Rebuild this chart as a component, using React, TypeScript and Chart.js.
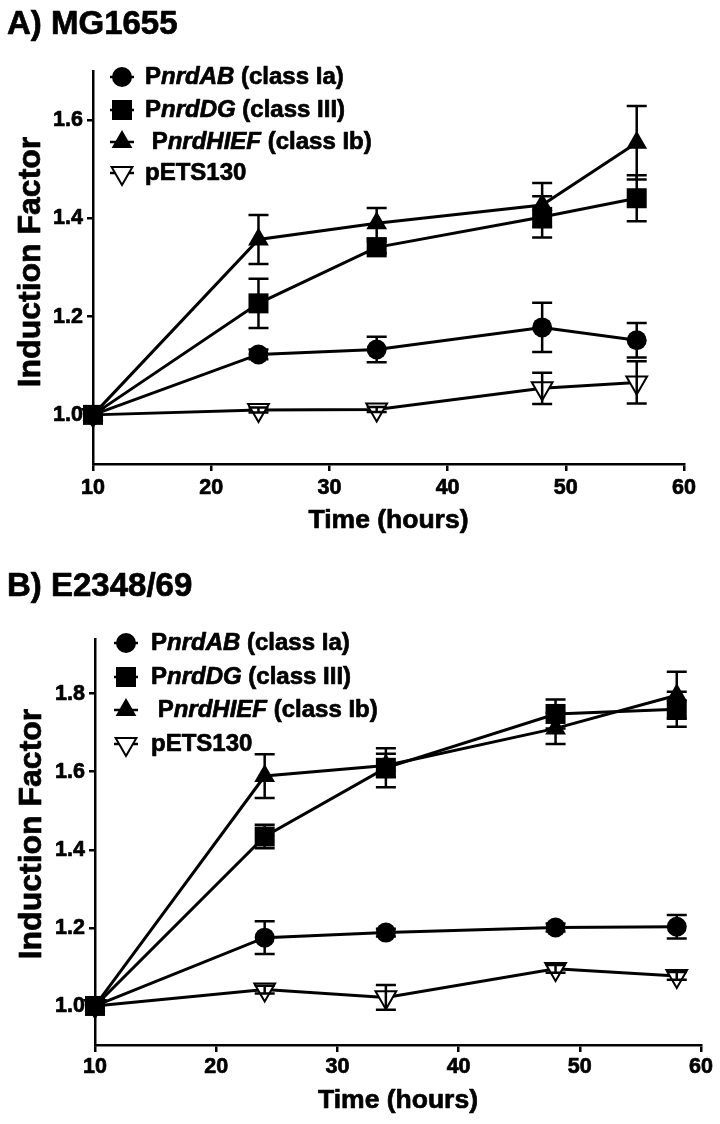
import React, { useEffect, useRef } from 'react';
import { Chart, registerables } from 'chart.js';

Chart.register(...registerables);

// ---------- data ----------
const X_TICKS = [10, 20, 30, 40, 50, 60];

// Panel A: MG1655
const TIME_A = [10, 24, 34, 48, 56];
const AB_A = [1.0, 1.123, 1.133, 1.178, 1.152];
const AB_A_ERR = [0, 0.01, 0.026, 0.05, 0.035];
const DG_A = [1.0, 1.227, 1.341, 1.403, 1.441];
const DG_A_ERR = [0, 0.05, 0.012, 0.042, 0.047];
const HIEF_A = [1.0, 1.357, 1.39, 1.427, 1.554];
const HIEF_A_ERR = [0, 0.05, 0.031, 0.045, 0.075];
const PETS_A = [1.0, 1.01, 1.011, 1.054, 1.066];
const PETS_A_ERR = [0, 0.005, 0.005, 0.032, 0.043];
const Y_TICKS_A = [1.0, 1.2, 1.4, 1.6];

// Panel B: E2348/69
const TIME_B = [10, 24, 34, 48, 58];
const AB_B = [1.0, 1.175, 1.188, 1.201, 1.203];
const AB_B_ERR = [0, 0.042, 0.01, 0.01, 0.03];
const DG_B = [1.0, 1.434, 1.61, 1.748, 1.76];
const DG_B_ERR = [0, 0.03, 0.05, 0.037, 0.045];
const HIEF_B = [1.0, 1.589, 1.616, 1.711, 1.796];
const HIEF_B_ERR = [0, 0.056, 0.03, 0.04, 0.06];
const PETS_B = [1.0, 1.042, 1.022, 1.095, 1.077];
const PETS_B_ERR = [0, 0.01, 0.032, 0.01, 0.01];
const Y_TICKS_B = [1.0, 1.2, 1.4, 1.6, 1.8];

// legend labels: [text, italic]
const LABEL_AB: [string, boolean][] = [['P', false], ['nrdAB', true], [' (class Ia)', false]];
const LABEL_DG: [string, boolean][] = [['P', false], ['nrdDG', true], [' (class III)', false]];
const LABEL_HIEF: [string, boolean][] = [[' P', false], ['nrdHIEF', true], [' (class Ib)', false]];
const LABEL_PETS: [string, boolean][] = [['pETS130', false]];

const X_TITLE = 'Time (hours)';
const Y_TITLE = 'Induction Factor';

// ---------- styling ----------
const SX = 1.0; // horizontal text stretch
const TEXT_STROKE = 0.7; // slight emboldening
const FAMILY = '"Liberation Sans", Arial, Helvetica, sans-serif';
const font = (size: number, italic = false) => `${italic ? 'italic ' : ''}bold ${size}px ${FAMILY}`;

type Kind = 'circle' | 'rect' | 'triangle' | 'down';

const KINDS: Kind[] = ['circle', 'rect', 'triangle', 'down'];
const LABELS = [LABEL_AB, LABEL_DG, LABEL_HIEF, LABEL_PETS];

const R_CIRCLE = 10;
const SIDE_RECT = 20;
const R_TRI = 12;

function pointProps(kind: Kind) {
  switch (kind) {
    case 'circle':
      return { pointStyle: 'circle', pointRadius: R_CIRCLE, pointBackgroundColor: '#000', pointBorderWidth: 0, pointRotation: 0 };
    case 'rect':
      return { pointStyle: 'rect', pointRadius: SIDE_RECT / Math.SQRT2, pointBackgroundColor: '#000', pointBorderWidth: 0, pointRotation: 0 };
    case 'triangle':
      return { pointStyle: 'triangle', pointRadius: R_TRI, pointBackgroundColor: '#000', pointBorderWidth: 0, pointRotation: 0 };
    default:
      return { pointStyle: 'triangle', pointRadius: R_TRI, pointBackgroundColor: '#fff', pointBorderWidth: 2, pointRotation: 180 };
  }
}

function fillStroke(ctx: CanvasRenderingContext2D, text: string, x: number, y: number) {
  ctx.fillText(text, x, y);
  ctx.lineWidth = TEXT_STROKE;
  ctx.strokeStyle = '#000';
  ctx.lineJoin = 'round';
  ctx.strokeText(text, x, y);
}

function drawText(ctx: CanvasRenderingContext2D, text: string, x: number, y: number, f: string, align: 'left' | 'center' | 'right') {
  ctx.save();
  ctx.font = f;
  ctx.textAlign = 'left';
  const w = ctx.measureText(text).width * SX;
  let x0 = x;
  if (align === 'center') x0 = x - w / 2;
  if (align === 'right') x0 = x - w;
  ctx.translate(x0, y);
  ctx.scale(SX, 1);
  fillStroke(ctx, text, 0, 0);
  ctx.restore();
  return w;
}

function drawMarker(ctx: CanvasRenderingContext2D, kind: Kind, x: number, y: number) {
  ctx.save();
  ctx.beginPath();
  const r = R_TRI;
  if (kind === 'circle') ctx.arc(x, y, R_CIRCLE, 0, Math.PI * 2);
  else if (kind === 'rect') ctx.rect(x - SIDE_RECT / 2, y - SIDE_RECT / 2, SIDE_RECT, SIDE_RECT);
  else if (kind === 'triangle') {
    ctx.moveTo(x, y - r);
    ctx.lineTo(x + r * 0.866, y + r * 0.5);
    ctx.lineTo(x - r * 0.866, y + r * 0.5);
    ctx.closePath();
  } else {
    ctx.moveTo(x, y + r);
    ctx.lineTo(x + r * 0.866, y - r * 0.5);
    ctx.lineTo(x - r * 0.866, y - r * 0.5);
    ctx.closePath();
  }
  if (kind === 'down') {
    ctx.fillStyle = '#fff';
    ctx.fill();
    ctx.lineWidth = 2;
    ctx.strokeStyle = '#000';
    ctx.stroke();
  } else {
    ctx.fillStyle = '#000';
    ctx.fill();
  }
  ctx.restore();
}

type PanelCfg = {
  title: string;
  height: number;
  area: { left: number; right: number; top: number; bottom: number };
  yMin: number;
  yMax: number;
  yTicks: number[];
  time: number[];
  values: number[][];
  errors: number[][];
  titleY: number;
  legendX: number;
  legendRows: number[];
  legendTextX: number;
  xLabelY: number;
  xTitleY: number;
  yTitleX: number;
  yTitleY: number;
  yLabelRight: number;
};

const PANEL_A: PanelCfg = {
  title: 'A) MG1655',
  height: 560,
  area: { left: 93, right: 684, top: 71, bottom: 464 },
  yMin: 0.9,
  yMax: 1.7,
  yTicks: Y_TICKS_A,
  time: TIME_A,
  values: [AB_A, DG_A, HIEF_A, PETS_A],
  errors: [AB_A_ERR, DG_A_ERR, HIEF_A_ERR, PETS_A_ERR],
  titleY: 34,
  legendX: 122,
  legendRows: [77, 110, 142, 173],
  legendTextX: 145,
  xLabelY: 488,
  xTitleY: 521,
  yTitleX: 31,
  yTitleY: 262,
  yLabelRight: 83,
};

const PANEL_B: PanelCfg = {
  title: 'B) E2348/69',
  height: 564,
  area: { left: 95, right: 701, top: 79, bottom: 485 },
  yMin: 0.9,
  yMax: 1.94,
  yTicks: Y_TICKS_B,
  time: TIME_B,
  values: [AB_B, DG_B, HIEF_B, PETS_B],
  errors: [AB_B_ERR, DG_B_ERR, HIEF_B_ERR, PETS_B_ERR],
  titleY: 36,
  legendX: 126,
  legendRows: [83, 117, 150, 184],
  legendTextX: 151,
  xLabelY: 507,
  xTitleY: 541,
  yTitleX: 32,
  yTitleY: 274,
  yLabelRight: 85,
};

function Panel({ cfg }: { cfg: PanelCfg }) {
  const ref = useRef<HTMLCanvasElement | null>(null);

  useEffect(() => {
    const canvas = ref.current;
    if (!canvas) return;

    const datasets = cfg.values.map((vals, i) => ({
      label: LABELS[i].map((p) => p[0]).join(''),
      data: cfg.time.map((t, j) => ({ x: t, y: vals[j] })),
      errorBars: cfg.errors[i],
      borderColor: '#000',
      borderWidth: 3,
      pointBorderColor: '#000',
      tension: 0,
      fill: false,
      clip: false,
      ...pointProps(KINDS[i]),
    }));

    const textPlugin = {
      id: 'panelText',
      beforeDatasetsDraw(chart: any) {
        const ctx: CanvasRenderingContext2D = chart.ctx;
        const xs = chart.scales.x;
        const ys = chart.scales.y;
        ctx.save();
        ctx.fillStyle = '#000';
        ctx.textBaseline = 'middle';
        X_TICKS.forEach((v) => drawText(ctx, String(v), xs.getPixelForValue(v), cfg.xLabelY, font(21.5), 'center'));
        cfg.yTicks.forEach((v) => drawText(ctx, v.toFixed(1), cfg.yLabelRight, ys.getPixelForValue(v), font(21.5), 'right'));
        drawText(ctx, X_TITLE, (xs.left + xs.right) / 2, cfg.xTitleY, font(26.5), 'center');
        // y title (rotated)
        ctx.save();
        ctx.translate(cfg.yTitleX, cfg.yTitleY);
        ctx.scale(SX, 1);
        ctx.rotate(-Math.PI / 2);
        ctx.font = font(32);
        ctx.textAlign = 'center';
        fillStroke(ctx, Y_TITLE, 0, 0);
        ctx.restore();
        // panel title
        ctx.textBaseline = 'alphabetic';
        drawText(ctx, cfg.title, 7, cfg.titleY, font(33), 'left');
        // legend
        ctx.textBaseline = 'middle';
        LABELS.forEach((parts, i) => {
          const y = cfg.legendRows[i];
          ctx.save();
          ctx.strokeStyle = '#000';
          ctx.lineWidth = 2.5;
          ctx.beginPath();
          ctx.moveTo(cfg.legendX - 12, y);
          ctx.lineTo(cfg.legendX + 12, y);
          ctx.stroke();
          ctx.restore();
          drawMarker(ctx, KINDS[i], cfg.legendX, y);
          let x = cfg.legendTextX;
          parts.forEach(([t, it]) => {
            x += drawText(ctx, t, x, y, font(24, it), 'left');
          });
        });
        ctx.restore();
      },
    };

    const errPlugin = {
      id: 'errorBars',
      afterDatasetsDraw(chart: any) {
        const ctx: CanvasRenderingContext2D = chart.ctx;
        const ys = chart.scales.y;
        ctx.save();
        ctx.strokeStyle = '#000';
        ctx.lineWidth = 2.5;
        chart.data.datasets.forEach((ds: any, i: number) => {
          const meta = chart.getDatasetMeta(i);
          ds.data.forEach((p: any, j: number) => {
            const e = ds.errorBars[j];
            if (!e) return;
            const x = meta.data[j].x;
            const yTop = ys.getPixelForValue(p.y + e);
            const yBot = ys.getPixelForValue(p.y - e);
            ctx.beginPath();
            ctx.moveTo(x, yTop);
            ctx.lineTo(x, yBot);
            ctx.moveTo(x - 10, yTop);
            ctx.lineTo(x + 10, yTop);
            ctx.moveTo(x - 10, yBot);
            ctx.lineTo(x + 10, yBot);
            ctx.stroke();
          });
        });
        ctx.restore();
      },
    };

    const chart = new Chart(canvas, {
      type: 'line',
      data: { datasets: datasets as any },
      options: {
        responsive: false,
        animation: false,
        devicePixelRatio: 1,
        events: [],
        layout: { padding: { top: cfg.area.top, right: 720 - cfg.area.right, left: 0, bottom: 0 } },
        plugins: {
          legend: { display: false },
          tooltip: { enabled: false },
          title: { display: false },
        },
        scales: {
          x: {
            type: 'linear',
            min: 10,
            max: 60,
            afterBuildTicks: (s: any) => {
              s.ticks = X_TICKS.map((v) => ({ value: v }));
            },
            afterFit: (s: any) => {
              s.height = cfg.height - cfg.area.bottom;
            },
            ticks: { display: false },
            grid: {
              display: true,
              drawOnChartArea: false,
              drawTicks: true,
              tickLength: 7,
              tickWidth: 2.5,
              tickColor: '#000',
              color: '#000',
              lineWidth: 2.5,
            },
            border: { display: true, color: '#000', width: 2.5 },
          },
          y: {
            type: 'linear',
            min: cfg.yMin,
            max: cfg.yMax,
            afterBuildTicks: (s: any) => {
              s.ticks = cfg.yTicks.map((v) => ({ value: v }));
            },
            afterFit: (s: any) => {
              s.width = cfg.area.left;
            },
            ticks: { display: false },
            grid: {
              display: true,
              drawOnChartArea: false,
              drawTicks: true,
              tickLength: 6,
              tickWidth: 2.5,
              tickColor: '#000',
              color: '#000',
              lineWidth: 2.5,
            },
            border: { display: true, color: '#000', width: 2.5 },
          },
        },
      } as any,
      plugins: [textPlugin, errPlugin],
    });

    return () => chart.destroy();
  }, [cfg]);

  return (
    <canvas
      ref={ref}
      width={720}
      height={cfg.height}
      style={{ display: 'block', width: 720, height: cfg.height }}
    />
  );
}

export default function App() {
  return (
    <div style={{ position: 'absolute', left: 0, top: 0, width: 720, height: 1124, background: '#fff' }}>
      <Panel cfg={PANEL_A} />
      <Panel cfg={PANEL_B} />
    </div>
  );
}
